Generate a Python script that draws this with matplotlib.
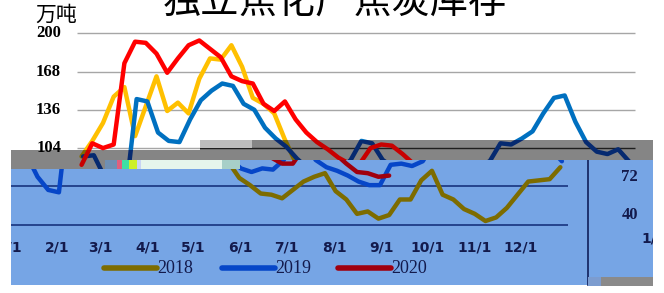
import matplotlib
matplotlib.use("Agg")
import matplotlib.pyplot as plt

# ---- data (day of year, value in 万吨) ----
days_2018 = [3, 10, 17, 24, 31, 38, 45, 52, 59, 66, 73, 80, 87, 94, 101, 108, 115, 122,
             129, 136, 143, 150, 157, 164, 171, 178, 185, 192, 199, 206, 213, 220, 227,
             234, 241, 248, 255, 262, 269, 276, 283, 290, 297, 304, 311, 318, 325, 332,
             339, 346, 353, 360]
vals_2018 = [97, 110, 125, 147, 155, 114, 139, 164, 135, 142, 133, 162, 179, 178, 190, 172,
             146, 141, 133, 111, 92, 79, 73, 66, 65, 62, 69, 76, 80, 83, 68, 61, 49, 51, 45,
             48, 61, 61, 77, 85, 65, 61, 53, 49, 43, 46, 54, 65, 76, 77, 78, 88]

days_2019 = [4, 11, 18, 25, 32, 39, 46, 53, 60, 67, 74, 81, 88, 95, 102, 109, 116, 123,
             130, 137, 144, 151, 158, 165, 172, 179, 186, 193, 200, 207, 214, 221, 228,
             235, 242, 249, 256, 263, 270, 277, 284, 291, 298, 305, 312, 319, 326, 333,
             340, 347, 354, 361]
vals_2019 = [97, 98, 80, 69, 67, 145, 143, 117, 110, 109, 128, 144, 152, 158, 156, 141, 136,
             121, 112, 105, 95, 87, 84, 87, 86, 94, 110, 108, 94, 88, 85, 81, 76, 73, 73, 90,
             91, 89, 93, 108, 107, 112, 118, 133, 146, 148, 126, 109, 101, 99, 103, 93]

days_2020 = [3, 10, 17, 24, 31, 38, 45, 52, 59, 66, 73, 80, 87, 94, 101, 108, 115, 122,
             129, 136, 143, 150, 157, 164, 171, 178, 185, 192, 199, 206, 213, 220, 227,
             234, 241, 248]
vals_2020 = [90, 108, 104, 107, 175, 193, 192, 183, 167, 179, 190, 194, 187, 180, 164, 160,
             158, 141, 135, 143, 128, 117, 109, 103, 96, 91, 91, 104, 107, 106, 99, 91, 84,
             83, 80, 81]

years = ["2018", "2019", "2020"]
series = {"2018": (days_2018, vals_2018),
          "2019": (days_2019, vals_2019),
          "2020": (days_2020, vals_2020)}

month_labels = ["1/1", "2/1", "3/1", "4/1", "5/1", "6/1", "7/1", "8/1", "9/1", "10/1",
                "11/1", "12/1"]
month_days = [0, 31, 59, 90, 120, 151, 181, 212, 243, 273, 304, 334]
y_ticks = [40, 72, 104, 136, 168, 200]

# ---- layout: figure pixels ----
W, H = 664, 293
PX_L, PX_R = 77, 635          # plot area left/right
PY_TOP, PY_BOT = 33.3, 224.6  # rows of 200 and 40
YMIN, YMAX, XMAX = 40, 200, 365


def day_at(px):
    return (px - PX_L) / (PX_R - PX_L) * XMAX


def val_at(py):
    return YMAX - (py - PY_TOP) / (PY_BOT - PY_TOP) * (YMAX - YMIN)


bright = {"2018": "#FFC000", "2019": "#0070C0", "2020": "#FF0000"}
dark = {"2018": "#806a00", "2019": "#062a70", "2020": "#c80000"}
tinted = {"2018": "#7d6c00", "2019": "#0646c8", "2020": "#a0000e"}

fig = plt.figure(figsize=(W / 100, H / 100), dpi=100)
fig.patch.set_facecolor("white")


def panel(x0, y0, x1, y1, face, dx=0, dy=0, z=1):
    # axes over a pixel box, showing the chart content found at (x+dx, y+dy)
    ax = fig.add_axes([x0 / W, 1 - y1 / H, (x1 - x0) / W, (y1 - y0) / H])
    ax.set_xlim(day_at(x0 + dx), day_at(x1 + dx))
    ax.set_ylim(val_at(y1 + dy), val_at(y0 + dy))
    ax.set_facecolor(face)
    ax.set_xticks([])
    ax.set_yticks([])
    for s in ax.spines.values():
        s.set_visible(False)
    ax.set_zorder(z)
    return ax


def chart(ax, pal, grid, txt, grid_lw=1.0, ylabels=(), xlabels=(), legend=False):
    ax.hlines(y_ticks, 0, XMAX, colors=grid, lw=grid_lw)
    for yr in years:
        d, v = series[yr]
        ax.plot(d, v, color=pal[yr], lw=3.2, solid_capstyle="round",
                solid_joinstyle="round")
    for t in ylabels:
        ax.text(day_at(61), t, str(t), ha="right", va="center", color=txt,
                fontsize=12, fontweight="bold", family="Liberation Serif", clip_on=True)
    for d, lab in zip(month_days, month_labels):
        if lab in xlabels:
            ax.text(d, val_at(247.5), lab, ha="center", va="center", color=txt,
                    fontsize=10, fontweight="bold", family="DejaVu Sans", clip_on=True)
    if legend:
        lx = [171, 289, 405]
        for yr, x in zip(years, lx):
            ax.plot([day_at(x), day_at(x + 53)], [val_at(268)] * 2, color=pal[yr], lw=4,
                    solid_capstyle="round")
            ax.text(day_at(x + 53), val_at(268), yr, ha="left", va="center", color=txt,
                    fontsize=13, family="Liberation Serif", clip_on=True)


# clean chart underneath (its 104 label sits half on white, half on the band)
ax_main = panel(0, 0, W, H, "white", z=0)
chart(ax_main, bright, "#a6a6a6", "black", ylabels=[104, 136, 168, 200])

# grey band across the middle
for box in [(11, 150, 105, 169), (105, 150, 200, 160), (200, 148, 252, 160),
            (252, 140, 653, 160)]:
    axb = panel(*box, "#858585", z=3)
    chart(axb, dark, "#1e1e1e", "black", ylabels=[104])
panel(200, 140, 252, 148, "#bdbdbd", z=3)

# garbled strip
panel(105, 160, 240, 169, "#e6f6ec", z=3)
for x0, x1, c in [(105, 117, "#6f8fb3"), (117, 122, "#e0607e"), (122, 129, "#3fe0a4"),
                  (129, 137, "#cdf02a"), (137, 141, "#c8d4f4"), (222, 240, "#a7cfc8")]:
    panel(x0, 160, x1, 169, c, z=4)

# blue lower part, shifted left and wrapped
ax_blue = panel(11, 160, 588, 285, "#76a5e5", dx=67, z=2)
chart(ax_blue, tinted, "#1f3c86", "#131a4c", grid_lw=1.3,
      xlabels=month_labels, legend=True)
ax_wrap = panel(588, 160, 653, 285, "#76a5e5", dx=-577, dy=9.5, z=2)
chart(ax_wrap, tinted, "#1f3c86", "#131a4c", grid_lw=1.3,
      ylabels=[40, 72], xlabels=["1/1"])
ax_wrap.spines["left"].set_visible(True)
ax_wrap.spines["left"].set_color("#0f1f5a")
ax_wrap.spines["left"].set_linewidth(1.2)
panel(601, 277, 653, 286, "#8a8a8a", z=3)
panel(588, 277, 601, 286, "#7c9ccf", z=3)

# titles
fig.text(335 / W, 1 - 12.5 / H, "独立焦化厂焦炭库存", ha="center", va="baseline",
         fontsize=27.5, family=["Noto Sans CJK SC", "DejaVu Sans"])
fig.text(56 / W, 1 - 15 / H, "万吨", ha="center", va="center",
         fontsize=15, family=["Noto Sans CJK SC", "DejaVu Sans"])

fig.savefig("out.png", dpi=100)
